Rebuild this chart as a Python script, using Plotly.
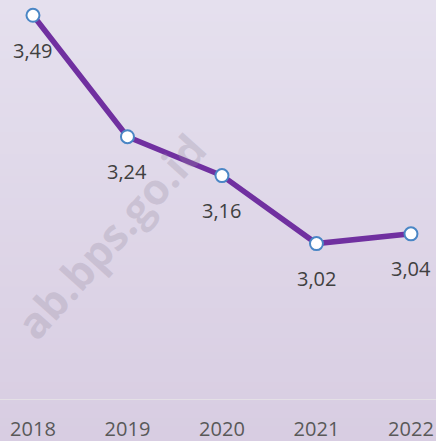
import plotly.graph_objects as go

years = [2018, 2019, 2020, 2021, 2022]
year_labels = ["2018", "2019", "2020", "2021", "2022"]
values = [3.49, 3.24, 3.16, 3.02, 3.04]
value_labels = ["3,49", "3,24", "3,16", "3,02", "3,04"]

W, H = 436, 441
PH = 399
fig = go.Figure()

fig.add_trace(go.Scatter(
    x=years, y=values, mode="lines+markers",
    line=dict(color="#7030a0", width=5.5),
    marker=dict(size=13, color="white", line=dict(color="#4a86c5", width=2)),
    hoverinfo="skip", showlegend=False, cliponaxis=False,
))

for x, y, t in zip(years, values, value_labels):
    fig.add_annotation(x=x, y=y, text=t, showarrow=False, yshift=-35,
                       font=dict(family="Open Sans", size=20, color="#404040"))

# background gradient
top = (229, 224, 238)
bot = (216, 205, 226)
n = 60
shapes = []
for i in range(n):
    f = i / (n - 1)
    c = tuple(round(top[k] + (bot[k] - top[k]) * f) for k in range(3))
    shapes.append(dict(type="rect", xref="paper", yref="paper", x0=-0.01, x1=1.01,
                       y0=1 - (i + 1) / n * (H / PH) - 0.001, y1=1 - i / n * (H / PH) + 0.001,
                       fillcolor="rgb(%d,%d,%d)" % c, line=dict(width=0), layer="below"))
fig.update_layout(shapes=shapes)

fig.add_annotation(xref="paper", yref="paper", x=110 / W, y=1 - 236 / PH,
                   xanchor="center", yanchor="middle",
                   text="<b>ab.bps.go.id</b>", showarrow=False, textangle=-48,
                   font=dict(family="Open Sans", size=43, color="rgba(150,140,160,0.28)"))

fig.update_layout(
    width=W, height=H,
    margin=dict(l=0, r=0, t=0, b=42),
    paper_bgcolor="#d9cfe3", plot_bgcolor="rgba(0,0,0,0)",
    xaxis=dict(range=[2017.651, 2022.265], tickvals=years, ticktext=year_labels,
               showgrid=False, zeroline=False, showline=True, linecolor="#e4e0e6", linewidth=1,
               ticks="outside", ticklen=0, ticklabelstandoff=12,
               tickfont=dict(family="Open Sans", size=20, color="#595959")),
    yaxis=dict(range=[2.7, 3.5215], visible=False),
)

fig.write_html("out.html", config={"displayModeBar": False},
               post_script="document.body.style.margin='0';document.body.style.overflow='hidden';")
